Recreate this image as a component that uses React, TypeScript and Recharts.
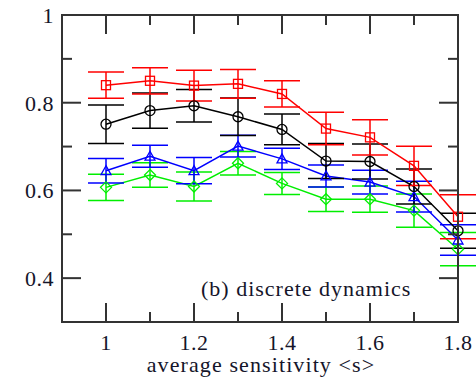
import { LineChart, Line, XAxis, YAxis, ErrorBar, ReferenceArea } from 'recharts';

const sensitivity = [1.0, 1.1, 1.2, 1.3, 1.4, 1.5, 1.6, 1.7, 1.8];
const redVals = [0.84, 0.85, 0.839, 0.843, 0.82, 0.741, 0.721, 0.656, 0.54];
const redErr = [0.03, 0.03, 0.035, 0.033, 0.03, 0.037, 0.04, 0.045, 0.05];
const blackVals = [0.751, 0.782, 0.793, 0.768, 0.739, 0.667, 0.666, 0.609, 0.508];
const blackErr = [0.044, 0.04, 0.037, 0.043, 0.035, 0.04, 0.04, 0.04, 0.04];
const blueVals = [0.645, 0.678, 0.645, 0.701, 0.672, 0.633, 0.619, 0.586, 0.487];
const blueErr = [0.028, 0.025, 0.03, 0.025, 0.024, 0.025, 0.027, 0.035, 0.035];
const greenVals = [0.607, 0.635, 0.609, 0.662, 0.616, 0.58, 0.58, 0.554, 0.466];
const greenErr = [0.03, 0.028, 0.033, 0.027, 0.025, 0.028, 0.03, 0.038, 0.038];

const xTicks = [1.0, 1.1, 1.2, 1.3, 1.4, 1.5, 1.6, 1.7, 1.8];
const yTicks = [0.4, 0.5, 0.6, 0.7, 0.8, 0.9, 1.0];

const data = sensitivity.map((s, i) => ({
  s,
  red: redVals[i],
  redErr: redErr[i],
  black: blackVals[i],
  blackErr: blackErr[i],
  blue: blueVals[i],
  blueErr: blueErr[i],
  green: greenVals[i],
  greenErr: greenErr[i],
}));

const W = 476;
const H = 381;
const MARGIN_TOP = 15;
const MARGIN_RIGHT = 18;
const X_AXIS_H = 59;
const Y_AXIS_W = 62;
const PLOT_TOP = MARGIN_TOP;
const PLOT_RIGHT = W - MARGIN_RIGHT;

const FONT = '"Liberation Serif", "Times New Roman", serif';

const isMajor = (v: number) => Math.round(v * 10) % 2 === 0;
const fmt = (v: number) => (Math.abs(v - 1) < 1e-6 ? '1' : v.toFixed(1));

// bottom axis tick: label outside, inward marks on bottom and top edges
const BottomTick = (props: any) => {
  const { x, y, payload } = props;
  const major = isMajor(payload.value);
  const len = major ? 19 : 10;
  return (
    <g>
      <path d={`M${x},${y}V${y - len}`} stroke="#333" strokeWidth={2} fill="none" />
      <path d={`M${x},${PLOT_TOP}V${PLOT_TOP + len}`} stroke="#333" strokeWidth={2} fill="none" />
      {payload.value === xTicks[0] && (
        <path d={`M${Y_AXIS_W},${PLOT_TOP}H${PLOT_RIGHT}V${y}`} stroke="#333" strokeWidth={2} fill="none" />
      )}
      {major && (
        <text x={x} y={y + 28} textAnchor="middle" fontSize={22} fontFamily={FONT} fill="#15152a" letterSpacing={0.5}>
          {fmt(payload.value)}
        </text>
      )}
    </g>
  );
};

// left axis tick: label outside, inward marks on left and right edges
const LeftTick = (props: any) => {
  const { x, y, payload } = props;
  const major = isMajor(payload.value);
  const len = major ? 19 : 10;
  return (
    <g>
      <path d={`M${x},${y}H${x + len}`} stroke="#333" strokeWidth={2} fill="none" />
      <path d={`M${PLOT_RIGHT},${y}H${PLOT_RIGHT - len}`} stroke="#333" strokeWidth={2} fill="none" />
      {major && (
        <text x={x - 8} y={y + 8} textAnchor="end" fontSize={22} fontFamily={FONT} fill="#15152a" letterSpacing={0.5}>
          {fmt(payload.value)}
        </text>
      )}
    </g>
  );
};

const SquareDot = (props: any) => {
  const { cx, cy, stroke, index } = props;
  return <rect key={index} x={cx - 4.5} y={cy - 4.5} width={9} height={9} fill="none" stroke={stroke} strokeWidth={1.3} />;
};
const CircleDot = (props: any) => {
  const { cx, cy, stroke, index } = props;
  return <circle key={index} cx={cx} cy={cy} r={5} fill="none" stroke={stroke} strokeWidth={1.3} />;
};
const TriangleDot = (props: any) => {
  const { cx, cy, stroke, index } = props;
  return (
    <polygon
      key={index}
      points={`${cx},${cy - 5} ${cx - 5},${cy + 4} ${cx + 5},${cy + 4}`}
      fill="none"
      stroke={stroke}
      strokeWidth={1.3}
    />
  );
};
const DiamondDot = (props: any) => {
  const { cx, cy, stroke, index } = props;
  return (
    <polygon
      key={index}
      points={`${cx},${cy - 5.5} ${cx + 5.5},${cy} ${cx},${cy + 5.5} ${cx - 5.5},${cy}`}
      fill="none"
      stroke={stroke}
      strokeWidth={1.3}
    />
  );
};

const series = [
  { key: 'green', color: '#00ee00', dot: DiamondDot },
  { key: 'blue', color: '#0000ff', dot: TriangleDot },
  { key: 'black', color: '#000000', dot: CircleDot },
  { key: 'red', color: '#ff0000', dot: SquareDot },
];

export default function App() {
  return (
    <div style={{ position: 'absolute', left: 0, top: 0, width: W, height: H }}>
      <LineChart width={W} height={H} data={data} margin={{ top: MARGIN_TOP, right: MARGIN_RIGHT, bottom: 0, left: 0 }}>
        <ReferenceArea
          x1={0.9}
          x2={1.8}
          y1={0.3}
          y2={1}
          fill="none"
          stroke="#333"
          strokeWidth={2}
          ifOverflow="visible"
        />
        <XAxis
          dataKey="s"
          type="number"
          domain={[0.9, 1.8]}
          ticks={xTicks}
          tickSize={0}
          tickMargin={0}
          tickLine={false}
          height={X_AXIS_H}
          axisLine={{ stroke: '#333', strokeWidth: 2 }}
          tick={BottomTick}
        />
        <YAxis
          type="number"
          domain={[0.3, 1]}
          ticks={yTicks}
          tickSize={0}
          tickMargin={0}
          tickLine={false}
          width={Y_AXIS_W}
          axisLine={{ stroke: '#333', strokeWidth: 2 }}
          tick={LeftTick}
        />
        {series.map((s) => (
          <Line
            key={s.key}
            dataKey={s.key}
            stroke={s.color}
            strokeWidth={1.5}
            dot={s.dot}
            activeDot={false}
            isAnimationActive={false}
          >
            <ErrorBar dataKey={`${s.key}Err`} width={18} stroke={s.color} strokeWidth={1.5} direction="y" />
          </Line>
        ))}
      </LineChart>
      <div
        style={{
          position: 'absolute',
          left: 201,
          top: 276,
          fontSize: 22,
          fontFamily: FONT,
          color: '#15152a',
          letterSpacing: 1,
          whiteSpace: 'nowrap',
        }}
      >
        (b) discrete dynamics
      </div>
      <div
        style={{
          position: 'absolute',
          left: 0,
          width: 522,
          top: 354,
          textAlign: 'center',
          fontSize: 22,
          fontFamily: FONT,
          color: '#15152a',
          letterSpacing: 1.1,
          whiteSpace: 'nowrap',
          lineHeight: '22px',
        }}
      >
        average sensitivity &lt;s&gt;
      </div>
    </div>
  );
}
